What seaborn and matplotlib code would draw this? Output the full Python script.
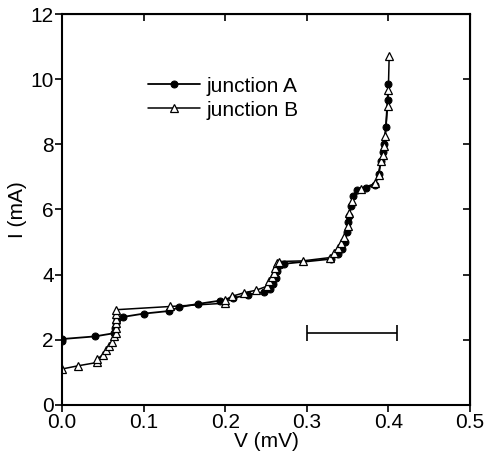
"""
Curvas I-V de dos uniones (junction A y junction B).
"""

import numpy as np
import pandas as pd
import matplotlib
matplotlib.use('Agg')
import matplotlib.pyplot as plt
import seaborn as sns

# Datos
v_a = [0.0, 0.0, 0.04, 0.064, 0.065, 0.066, 0.068, 0.075, 0.1, 0.131, 0.144,
       0.167, 0.194, 0.21, 0.228, 0.247, 0.255, 0.259, 0.262, 0.264, 0.267,
       0.272, 0.33, 0.338, 0.343, 0.347, 0.349, 0.351, 0.352, 0.354, 0.357,
       0.362, 0.372, 0.384, 0.388, 0.391, 0.393, 0.395, 0.397, 0.399, 0.4]
i_a = [1.95, 2.02, 2.1, 2.2, 2.35, 2.5, 2.62, 2.7, 2.8, 2.88, 3.0,
       3.1, 3.2, 3.28, 3.38, 3.46, 3.55, 3.7, 3.9, 4.1, 4.28,
       4.33, 4.48, 4.62, 4.8, 5.0, 5.3, 5.6, 5.8, 6.1, 6.4,
       6.6, 6.66, 6.75, 7.1, 7.5, 7.75, 8.0, 8.53, 9.37, 9.86]

v_b = [0.0, 0.02, 0.043, 0.043, 0.05, 0.054, 0.058, 0.061, 0.064, 0.066,
       0.066, 0.066, 0.066, 0.066, 0.066, 0.133, 0.2, 0.2, 0.208, 0.223,
       0.238, 0.251, 0.254, 0.258, 0.26, 0.261, 0.263, 0.266, 0.295, 0.328,
       0.333, 0.338, 0.342, 0.346, 0.35, 0.352, 0.355, 0.366, 0.384, 0.388,
       0.391, 0.393, 0.395, 0.396, 0.399, 0.4, 0.401]
i_b = [1.1, 1.2, 1.3, 1.4, 1.54, 1.67, 1.8, 1.92, 2.1, 2.2,
       2.35, 2.5, 2.65, 2.8, 2.92, 3.02, 3.12, 3.22, 3.33, 3.44,
       3.52, 3.64, 3.8, 3.92, 4.05, 4.2, 4.35, 4.4, 4.42, 4.52,
       4.67, 4.82, 4.98, 5.15, 5.5, 5.9, 6.25, 6.63, 6.8, 7.05,
       7.48, 7.68, 7.96, 8.24, 9.18, 9.67, 10.7]

# Barra de escala
bar_v = [0.355]
bar_half = [0.055]
bar_i = [2.2]

x_ticks = [0.0, 0.1, 0.2, 0.3, 0.4, 0.5]
y_ticks = [0, 2, 4, 6, 8, 10, 12]

sns.set_style('ticks')
plt.rcParams['font.family'] = ['Liberation Sans', 'DejaVu Sans']
plt.rcParams.update({'text.color': 'black', 'axes.labelcolor': 'black',
                     'xtick.color': 'black', 'ytick.color': 'black',
                     'axes.edgecolor': 'black'})

fig = plt.figure(figsize=(4.88, 4.68), dpi=100)
ax = fig.add_axes([0.127, 0.135, 0.836, 0.835])

sns.lineplot(x=v_a, y=i_a, sort=False, estimator=None, ax=ax, color='black',
             lw=1.3, marker='o', ms=5, markerfacecolor='black',
             markeredgecolor='black', label='junction A')
sns.lineplot(x=v_b, y=i_b, sort=False, estimator=None, ax=ax, color='black',
             lw=1.1, marker='^', ms=6, markerfacecolor='white',
             markeredgecolor='black', markeredgewidth=0.9, label='junction B')

ax.errorbar(bar_v, bar_i, xerr=bar_half, fmt='none', ecolor='black',
            elinewidth=1.2, capsize=6, capthick=1.2)

ax.set_xlim(0, 0.5)
ax.set_ylim(0, 12)
ax.set_xticks(x_ticks)
ax.set_xticklabels([f'{t:.1f}' for t in x_ticks])
ax.set_yticks(y_ticks)
ax.set_xlabel('V (mV)', fontsize=15, labelpad=0)
ax.set_ylabel('I (mA)', fontsize=15, labelpad=2)
ax.tick_params(direction='out', length=5, width=1.2, labelsize=15, pad=1)

for s in ax.spines.values():
    s.set_linewidth(1.5)
    s.set_visible(True)

# ticks hacia dentro en lados superior y derecho
top = ax.secondary_xaxis('top')
top.set_xticks(x_ticks[1:-1])
top.tick_params(direction='in', length=5, width=1.2, labeltop=False)
right = ax.secondary_yaxis('right')
right.set_yticks(y_ticks[1:-1])
right.tick_params(direction='in', length=5, width=1.2, labelright=False)

ax.legend(loc='upper left', bbox_to_anchor=(0.21, 0.84), frameon=False,
          fontsize=15, handlelength=2.5, handletextpad=0.35,
          borderaxespad=0, borderpad=0, labelspacing=0.25)

fig.savefig('out.png', dpi=100)
